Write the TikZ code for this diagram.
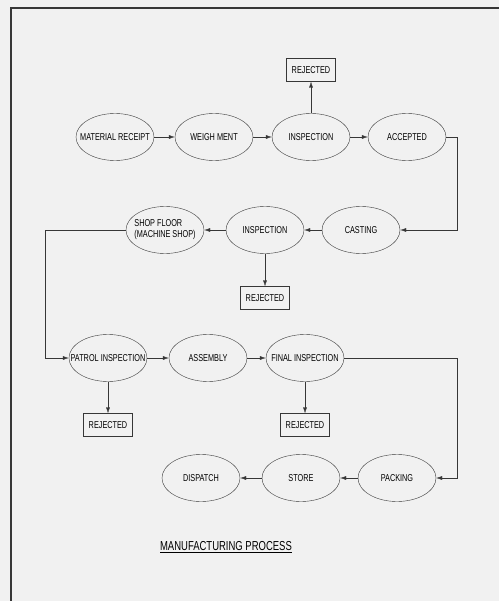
\documentclass[tikz,border=0pt]{standalone}
\usepackage{fontspec}
\setmainfont{Liberation Sans}[FakeStretch=0.73]
\usepackage{tikz}
\usetikzlibrary{arrows.meta, positioning, shapes.geometric}
\definecolor{pagebg}{RGB}{241,241,241}
\definecolor{inkgray}{RGB}{55,55,55}

\begin{document}
\begin{tikzpicture}[x=1pt, y=-1pt,
    stage/.style={draw=inkgray, ellipse, minimum width=78pt, minimum height=47pt, inner sep=0pt,
      label={[font=\fontsize{10}{11}\selectfont, align=left, inner sep=0pt]center:#1}},
    reject/.style={draw=inkgray, rectangle, minimum width=49pt, minimum height=23pt, inner sep=0pt, font=\fontsize{10}{11}\selectfont},
    flow/.style={draw=inkgray, -{Latex[length=6pt,width=4pt]}}]
  \fill[pagebg] (0,0) rectangle (499,601);
  \useasboundingbox (0,0) rectangle (499,601);
  % page frame
  \draw[inkgray, line width=1.5pt] (11,601) -- (11,8) -- (499,8);

  % first row
  \node[stage=MATERIAL RECEIPT] (receipt) at (115,137) {};
  \node[stage=WEIGH MENT] (weigh) at (214,137) {};
  \node[stage=INSPECTION] (insp1) at (311,137) {};
  \node[stage=ACCEPTED] (accept) at (407,137) {};
  \node[reject] (rej1) at (311,70) {REJECTED};

  % second row, right to left
  \node[stage=CASTING] (cast) at (361,230) {};
  \node[stage=INSPECTION] (insp2) at (265,230) {};
  \node[stage={SHOP FLOOR\\(MACHINE SHOP)}] (shop) at (165,230) {};
  \node[reject] (rej2) at (265,298) {REJECTED};

  % third row
  \node[stage=PATROL INSPECTION] (patrol) at (108,358) {};
  \node[stage=ASSEMBLY] (assem) at (208,358) {};
  \node[stage=FINAL INSPECTION] (final) at (305,358) {};
  \node[reject] (rej3) at (108,425) {REJECTED};
  \node[reject] (rej4) at (305,425) {REJECTED};

  % last row, right to left
  \node[stage=PACKING] (pack) at (397,478) {};
  \node[stage=STORE] (store) at (301,478) {};
  \node[stage=DISPATCH] (disp) at (201,478) {};

  \node[inner sep=0pt, font=\fontsize{13}{14}\selectfont] (title) at (226,547) {\underline{MANUFACTURING PROCESS}};

  \coordinate (turnA) at (457,137);
  \coordinate (turnB) at (45,230);
  \coordinate (turnC) at (457,358);

  \draw[flow] (receipt) -- (weigh);
  \draw[flow] (weigh) -- (insp1);
  \draw[flow] (insp1) -- (accept);
  \draw[flow] (insp1) -- (rej1);
  \draw[flow] (accept.east) -- (turnA) |- (cast.east);
  \draw[flow] (cast) -- (insp2);
  \draw[flow] (insp2) -- (shop);
  \draw[flow] (insp2) -- (rej2);
  \draw[flow] (shop.west) -- (turnB) |- (patrol.west);
  \draw[flow] (patrol) -- (assem);
  \draw[flow] (assem) -- (final);
  \draw[flow] (patrol) -- (rej3);
  \draw[flow] (final) -- (rej4);
  \draw[flow] (final.east) -- (turnC) |- (pack.east);
  \draw[flow] (pack) -- (store);
  \draw[flow] (store) -- (disp);
\end{tikzpicture}
\end{document}
